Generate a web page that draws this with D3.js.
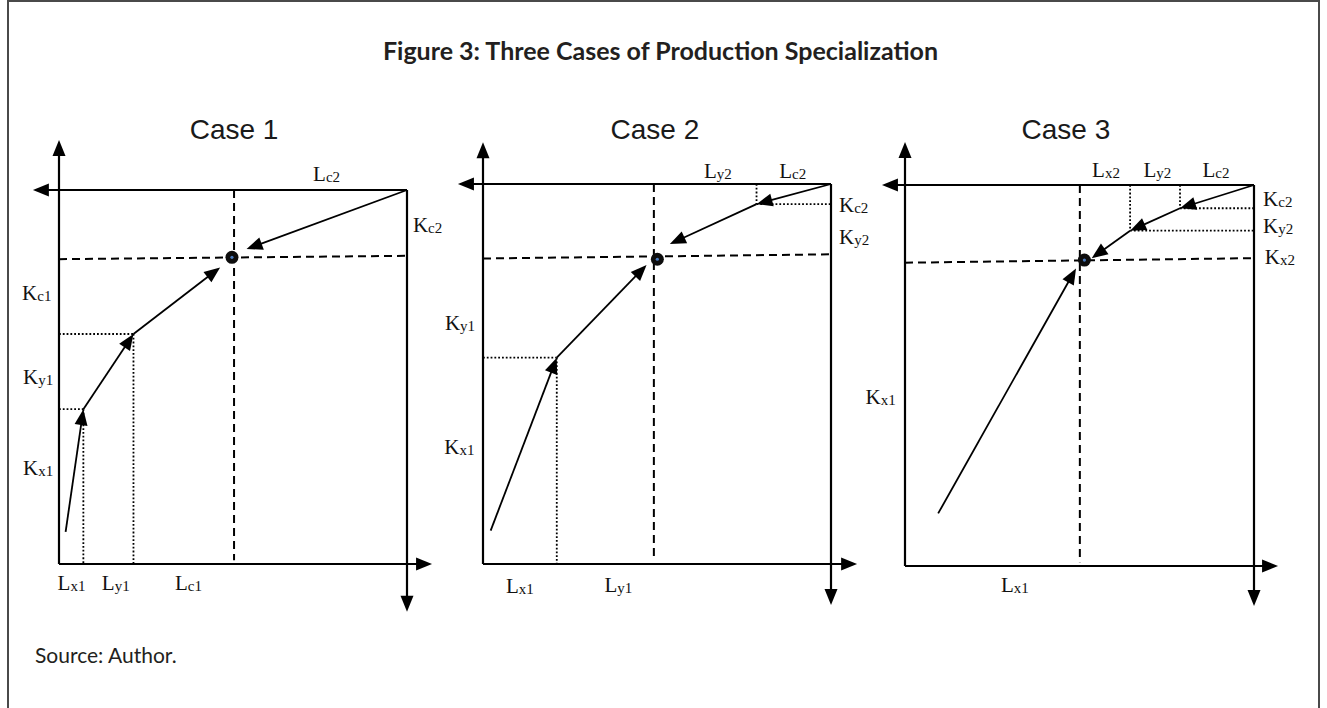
<!DOCTYPE html>
<html><head><meta charset="utf-8">
<script src="https://cdn.jsdelivr.net/npm/d3@7/dist/d3.min.js"></script>
<style>body{margin:0;background:#fff}</style>
</head><body><svg id="c" width="1327" height="708"></svg>
<script>
// ---------------- data (panel units: 0..100 on each axis) ----------------
const caseTitles = ["Case 1", "Case 2", "Case 3"];
const caseTitleX = [50.3, 49.4, 46.1];
const equilibrium = [[49.7, 82], [50.1, 80.2], [51.4, 80.3]];
const eqVerticalX = [50.3, 49.1, 50.1];
const eqHorizontalY = [[81.5, 82.4], [80.4, 81.5], [79.6, 80.8]];
// path of country 1 (origin bottom-left)
const pathCountry1 = [
  [[1.9, 8.6], [7.0, 41.4], [21.4, 61.5], [46.3, 79.3]],
  [[2.2, 8.8], [21.2, 54.3], [47.0, 78.7]],
  [[9.5, 13.8], [49.0, 78.1]]
];
// path of country 2 (origin top-right)
const pathCountry2 = [
  [[100, 100], [53.9, 84.2]],
  [[100, 100], [78.6, 94.7], [53.7, 84.2]],
  [[100, 100], [78.8, 93.9], [64.5, 88.0], [53.5, 80.8]]
];
// labels: [main, subscript, x, y]
const labelsCase1 = [["L","c2",76.9,104.3],["K","c2",101.7,90.6],["K","c1",-6.4,72.4],["K","y1",-6,50],
  ["K","x1",-6,25.7],["L","x1",3.6,-5.1],["L","y1",16.3,-5.1],["L","c1",37.2,-5.1]];
const labelsCase2 = [["L","y2",67.5,103.4],["L","c2",89,103.4],["K","c2",102.3,94.5],["K","y2",102.3,86.1],
  ["K","y1",-6.6,63.3],["K","x1",-6.8,30.9],["L","x1",10.6,-5.8],["L","y1",38.9,-5.5]];
const labelsCase3 = [["L","x2",57.6,103.9],["L","y2",72.3,103.9],["L","c2",89.1,103.9],["K","c2",102.6,96.3],
  ["K","y2",102.6,89.3],["K","x2",103.1,81.2],["K","x1",-7,44.4],["L","x1",31.5,-5]];
const caseLabels = [labelsCase1, labelsCase2, labelsCase3];
// axis arrow tip positions in panel units
const axisUpTip = [113.4, 111, 111.3];
const axisLeftTip = [-7.5, -7.2, -6.6];
const axisRightTip = [107.2, 107.5, 106.9];
const axisDownTip = [-12.8, -10.8, -10.5];

// ---------------- layout ----------------
const panels = [
  {x0: 59, x1: 407, yB: 564, yT: 190},
  {x0: 483, x1: 831, yB: 564, yT: 184},
  {x0: 905, x1: 1254, yB: 566, yT: 185}
];

const svg = d3.select("#c");
svg.append("rect").attr("x", 8).attr("y", 1).attr("width", 1311).attr("height", 720)
  .attr("fill", "none").attr("stroke", "#4a4a4a").attr("stroke-width", 2);

svg.append("text").attr("x", 938).attr("y", 60).attr("text-anchor", "end")
  .attr("font-family", "Lato, 'Open Sans', sans-serif").attr("font-weight", 700)
  .attr("font-size", 25).attr("fill", "#231f20")
  .text("Figure 3: Three Cases of Production Specialization");

svg.append("text").attr("x", 35).attr("y", 663)
  .attr("font-family", "Lato, 'Open Sans', sans-serif").attr("font-weight", 400)
  .attr("font-size", 21).attr("fill", "#231f20").text("Source: Author.");

const AL = 16, AW = 13; // arrow head length / width

function arrowLine(g, p0, p1, width) {
  const dx = p1[0] - p0[0], dy = p1[1] - p0[1];
  const len = Math.hypot(dx, dy), ux = dx / len, uy = dy / len;
  const bx = p1[0] - ux * AL, by = p1[1] - uy * AL;
  g.append("line").attr("x1", p0[0]).attr("y1", p0[1]).attr("x2", bx + ux * 1).attr("y2", by + uy * 1)
    .attr("stroke", "#000").attr("stroke-width", width);
  const px = -uy * AW / 2, py = ux * AW / 2;
  g.append("path").attr("d", `M${p1[0]},${p1[1]}L${bx + px},${by + py}L${bx - px},${by - py}Z`).attr("fill", "#000");
}

panels.forEach((p, i) => {
  const x = d3.scaleLinear().domain([0, 100]).range([p.x0, p.x1]);
  const y = d3.scaleLinear().domain([0, 100]).range([p.yB, p.yT]);
  const g = svg.append("g");

  g.append("text").attr("x", x(caseTitleX[i])).attr("y", 139).attr("text-anchor", "middle")
    .attr("font-family", "'Liberation Sans', Arial, sans-serif").attr("font-size", 28).attr("fill", "#1a1a1a")
    .text(caseTitles[i]);

  const dotted = (a, b) => g.append("line").attr("x1", x(a[0])).attr("y1", y(a[1])).attr("x2", x(b[0])).attr("y2", y(b[1]))
      .attr("stroke", "#000").attr("stroke-width", 1.8).attr("stroke-dasharray", "1.8,2");
  pathCountry1[i].slice(1, -1).forEach(v => { dotted([0, v[1]], v); dotted(v, [v[0], 0]); });
  pathCountry2[i].slice(1, -1).forEach(v => { dotted([v[0], 100], v); dotted(v, [100, v[1]]); });

  g.append("line").attr("x1", x(eqVerticalX[i])).attr("y1", y(100)).attr("x2", x(eqVerticalX[i])).attr("y2", y(1))
    .attr("stroke", "#000").attr("stroke-width", 2).attr("stroke-dasharray", "8,5");
  g.append("line").attr("x1", x(0)).attr("y1", y(eqHorizontalY[i][0])).attr("x2", x(100)).attr("y2", y(eqHorizontalY[i][1]))
    .attr("stroke", "#000").attr("stroke-width", 2).attr("stroke-dasharray", "8,5");

  arrowLine(g, [x(0), y(0)], [x(0), y(axisUpTip[i])], 2.2);
  arrowLine(g, [x(0), y(0)], [x(axisRightTip[i]), y(0)], 2.2);
  arrowLine(g, [x(100), y(100)], [x(axisLeftTip[i]), y(100)], 2.2);
  arrowLine(g, [x(100), y(100)], [x(100), y(axisDownTip[i])], 2.2);

  [pathCountry1[i], pathCountry2[i]].forEach(path => {
    for (let k = 0; k < path.length - 1; k++) {
      arrowLine(g, [x(path[k][0]), y(path[k][1])], [x(path[k + 1][0]), y(path[k + 1][1])], 1.8);
    }
  });

  g.append("circle").attr("cx", x(equilibrium[i][0])).attr("cy", y(equilibrium[i][1])).attr("r", 6.5).attr("fill", "#0d0d0d");
  g.append("circle").attr("cx", x(equilibrium[i][0])).attr("cy", y(equilibrium[i][1])).attr("r", 1.6).attr("fill", "#4a7bbf");

  caseLabels[i].forEach(l => {
    const t = g.append("text").attr("x", x(l[2])).attr("y", y(l[3]) + 7)
      .attr("text-anchor", l[2] > 100 ? "start" : "middle")
      .attr("font-family", "'Liberation Serif', 'DejaVu Serif', serif").attr("font-size", 21).attr("fill", "#111");
    t.append("tspan").text(l[0]);
    t.append("tspan").attr("font-size", 15).attr("dy", 1).text(l[1]);
  });
});
</script></body></html>
